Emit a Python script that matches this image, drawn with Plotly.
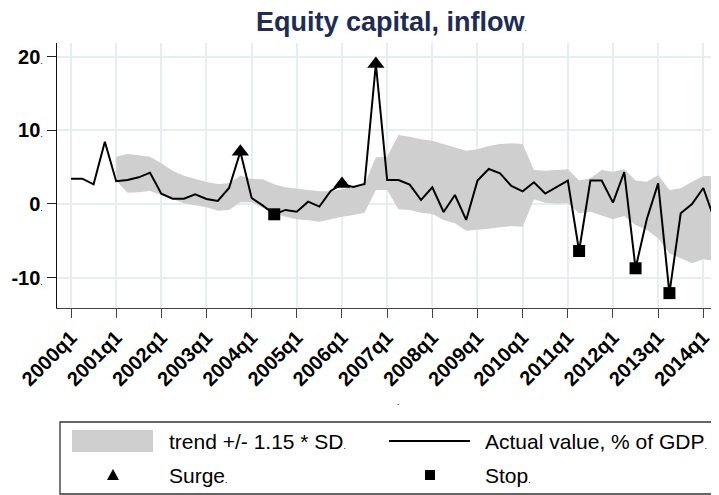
import plotly.graph_objects as go

# ---------------- data ----------------
quarters = [f"{y}q{q}" for y in range(2000, 2015) for q in range(1, 5)][:59]  # 2000q1 .. 2014q3

actual = [3.43, 3.43, 2.67, 8.45, 3.08, 3.26, 3.62, 4.25, 1.40, 0.72,
          0.72, 1.31, 0.68, 0.41, 2.17, 7.10, 0.81, -0.23, -1.40, -0.81,
          -1.04, 0.31, -0.36, 1.76, 2.70, 2.31, 2.71, 19.0, 3.26, 3.26,
          2.62, 0.54, 2.26, -1.09, 1.22, -2.17, 3.17, 4.75, 4.16, 2.44,
          1.72, 2.94, 1.42, 2.26, 3.17, -6.38, 3.17, 3.17, 0.18, 4.34,
          -8.73, -2.03, 2.80, -12.1, -1.27, 0.00, 2.17, -2.17]

band_start = 4  # band begins at 2001q1
band_upper = [6.42, 6.78, 6.60, 6.42, 5.52, 4.52, 3.84, 3.39, 2.98, 2.71,
              2.80, 3.84, 3.39, 3.35, 2.67, 2.26, 2.04, 1.90, 1.72, 1.72,
              1.95, 2.44, 2.71, 6.33, 6.42, 9.36, 9.13, 8.77, 8.59, 8.14,
              7.69, 7.23, 7.42, 7.87, 8.14, 8.23, 8.14, 4.61, 4.50, 4.61,
              4.70, 3.17, 3.48, 4.61, 4.39, 4.70, 3.17, 3.03, 3.93, 1.90,
              2.13, 3.03, 3.80, 3.80, 3.80]
band_lower = [3.20, 1.53, 1.58, 1.76, 1.22, 0.64, 0.09, -0.18, -0.45, -0.91,
              -0.81, 0.23, 0.23, -0.50, -1.27, -1.72, -2.08, -2.21, -2.40, -2.08,
              -1.72, -1.49, -1.18, 1.90, 1.90, -0.70, -0.81, -1.18, -1.36, -2.17,
              -2.62, -3.62, -3.53, -3.35, -3.17, -2.99, -3.08, 0.64, 0.15, 0.05,
              0.09, -1.27, -1.04, -1.54, -2.08, -1.63, -2.85, -3.53, -4.66, -6.70,
              -7.37, -8.05, -7.50, -7.69, -7.70]

surge_quarters = ["2003q4", "2006q1", "2006q4"]
stop_quarters = ["2004q3", "2011q2", "2012q3", "2013q2"]

ytick_vals = [-10, 0, 10, 20]
xtick_labels = [f"{y}q1" for y in range(2000, 2015)]

title_text = "Equity capital, inflow"
legend_labels = ["trend +/- 1.15 * SD", "Actual value, % of GDP", "Surge", "Stop"]

# ---------------- geometry helpers (page pixels -> paper) ----------------
OFF = 8                      # default body margin of the html page
W, H = 719 - OFF, 495 - OFF
ML = 57 - OFF
MT = 43 - OFF
MB = H - (308 - OFF)
MR = 0
PW, PH = W - ML - MR, H - MT - MB


def px(x):
    return (x - OFF - ML) / PW


def py(y):
    return (H - MB - (y - OFF)) / PH


small_dot = "<span style='font-size:9px'>.</span>"
FONT = "Liberation Sans, Arial, sans-serif"

band_x = quarters[band_start:band_start + len(band_upper)]
act_x = quarters[:len(actual)]
lookup = dict(zip(act_x, actual))

fig = go.Figure()
fig.add_trace(go.Scatter(x=band_x, y=band_lower, mode="lines",
                         line=dict(width=0, color="rgba(0,0,0,0)"),
                         hoverinfo="skip", showlegend=False))
fig.add_trace(go.Scatter(x=band_x, y=band_upper, mode="lines",
                         line=dict(width=0, color="rgba(0,0,0,0)"),
                         fill="tonexty", fillcolor="#cfcfcf",
                         name=legend_labels[0], showlegend=False))
fig.add_trace(go.Scatter(x=act_x, y=actual, mode="lines",
                         line=dict(color="black", width=2),
                         name=legend_labels[1], showlegend=False))
fig.add_trace(go.Scatter(x=surge_quarters, y=[lookup[q] for q in surge_quarters],
                         mode="markers",
                         marker=dict(symbol="triangle-up", size=15, color="black"),
                         name=legend_labels[2], showlegend=False))
fig.add_trace(go.Scatter(x=stop_quarters, y=[lookup[q] for q in stop_quarters],
                         mode="markers",
                         marker=dict(symbol="square", size=12, color="black"),
                         name=legend_labels[3], showlegend=False))

grid_col = "#e6eef1"
fig.update_xaxes(type="category", categoryorder="array", categoryarray=quarters,
                 range=[-1.24, 57.39], automargin=False,
                 tickmode="array", tickvals=xtick_labels,
                 ticktext=[f"<b>{t}</b>" for t in xtick_labels],
                 tickangle=-45, ticks="outside", ticklen=9, tickwidth=1.3,
                 tickcolor="#444", showgrid=True, gridcolor=grid_col, gridwidth=1.6,
                 showline=True, linecolor="#444", linewidth=1.3,
                 tickfont=dict(family=FONT, size=20, color="black"),
                 zeroline=False)
fig.update_yaxes(range=[-14.12, 21.85], automargin=False,
                 tickmode="array", tickvals=ytick_vals,
                 ticktext=[f"<b>{v}</b>{small_dot}" for v in ytick_vals],
                 ticks="outside", ticklen=9, tickwidth=1.3, tickcolor="#222",
                 showgrid=True, gridcolor=grid_col, gridwidth=1.6,
                 showline=True, linecolor="#111", linewidth=1.3,
                 tickfont=dict(family=FONT, size=20, color="black"),
                 zeroline=False)

shapes = []
annotations = []

# Title
annotations.append(dict(x=px(392), y=py(22), xref="paper", yref="paper",
                        text=f"<b>{title_text}</b>{small_dot}", showarrow=False,
                        xanchor="center", yanchor="middle",
                        font=dict(family=FONT, size=27, color="#1e2c55")))
# stray x-axis title dot
annotations.append(dict(x=px(398), y=py(402), xref="paper", yref="paper",
                        text=".", showarrow=False, xanchor="center", yanchor="middle",
                        font=dict(family=FONT, size=9, color="black")))

# Legend box
shapes.append(dict(type="rect", xref="paper", yref="paper",
                   x0=px(60), x1=px(730), y0=py(422), y1=py(494),
                   line=dict(color="#333", width=1.3), fillcolor="white", layer="below"))
row1, row2 = 441, 475
# band key
shapes.append(dict(type="rect", xref="paper", yref="paper",
                   x0=px(72), x1=px(153), y0=py(430), y1=py(452),
                   line=dict(width=0), fillcolor="#cfcfcf"))
# line key
shapes.append(dict(type="line", xref="paper", yref="paper",
                   x0=px(389), x1=px(470), y0=py(row1), y1=py(row1),
                   line=dict(color="black", width=2)))
# triangle key
tx, ty = 113, row2
shapes.append(dict(type="path", xref="paper", yref="paper",
                   path=f"M {px(tx-6)} {py(ty+5)} L {px(tx+6)} {py(ty+5)} L {px(tx)} {py(ty-6)} Z",
                   line=dict(width=0), fillcolor="black"))
# square key
sx, sy = 430, row2
shapes.append(dict(type="rect", xref="paper", yref="paper",
                   x0=px(sx-5), x1=px(sx+5), y0=py(sy+5), y1=py(sy-5),
                   line=dict(width=0), fillcolor="black"))

for (x, y, t) in [(168, row1, legend_labels[0]), (484, row1, legend_labels[1]),
                  (168, row2, legend_labels[2]), (484, row2, legend_labels[3])]:
    annotations.append(dict(x=px(x), y=py(y), xref="paper", yref="paper",
                            text=f"{t}{small_dot}", showarrow=False,
                            xanchor="left", yanchor="middle", borderpad=0,
                            font=dict(family=FONT, size=21, color="black")))

fig.update_layout(width=W, height=H, margin=dict(l=ML, r=MR, t=MT, b=MB),
                  paper_bgcolor="white", plot_bgcolor="white",
                  showlegend=False, shapes=shapes, annotations=annotations)

fig.write_html("out.html")
